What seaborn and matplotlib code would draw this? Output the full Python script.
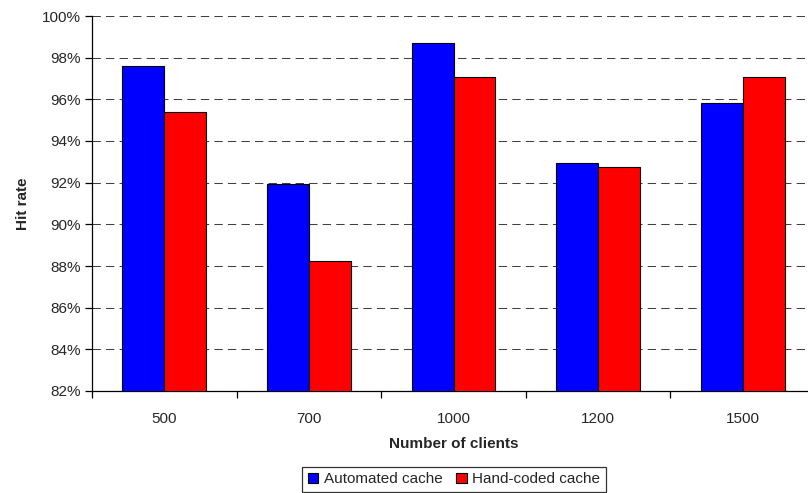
import pandas as pd
import matplotlib
matplotlib.use("Agg")
import matplotlib.pyplot as plt
from matplotlib.ticker import PercentFormatter, FixedLocator
import seaborn as sns

# Data
clients = ['500', '700', '1000', '1200', '1500']
automated = [97.6, 91.95, 98.72, 92.95, 95.84]
hand_coded = [95.37, 88.23, 97.08, 92.73, 97.08]
series_names = ['Automated cache', 'Hand-coded cache']
colors = ['#0000FF', '#FF0000']

df = pd.DataFrame({
    'clients': clients * 2,
    'hit': automated + hand_coded,
    'cache': [series_names[0]] * len(clients) + [series_names[1]] * len(clients),
})

sns.set_style("white")
plt.rcParams['font.family'] = ['Liberation Sans', 'DejaVu Sans']

fig = plt.figure(figsize=(8.08, 4.93), dpi=100)
ax = fig.add_axes([92 / 808, 1 - 391 / 493, (815 - 92) / 808, 375 / 493])

sns.barplot(data=df, x='clients', y='hit', hue='cache', order=clients,
            hue_order=series_names, palette=colors, width=0.58, saturation=1,
            edgecolor='black', linewidth=0.8, ax=ax, zorder=3)

ax.set_ylim(82, 100)
ax.set_xlim(-0.5, len(clients) - 0.5)
ax.yaxis.set_major_locator(FixedLocator(range(82, 101, 2)))
ax.yaxis.set_major_formatter(PercentFormatter(decimals=0))

# dashed grid like Excel
ax.yaxis.grid(True, color='#404040', linestyle=(0, (8, 5)), linewidth=0.75, zorder=0)
ax.xaxis.grid(False)
ax.set_axisbelow(True)

for s in ['top', 'right']:
    ax.spines[s].set_visible(False)
for s in ['left', 'bottom']:
    ax.spines[s].set_color('black')
    ax.spines[s].set_linewidth(0.9)

# ticks: outward on y, category separators on x
ax.tick_params(axis='y', which='major', direction='out', length=5, width=0.9,
               color='black', labelsize=11, pad=3, left=True)
ax.set_xticks(range(len(clients)))
ax.set_xticklabels(clients)
ax.tick_params(axis='x', which='major', length=0, labelsize=11, pad=15)
ax.set_xticks([i + 0.5 for i in range(-1, len(clients))], minor=True)
ax.tick_params(axis='x', which='minor', direction='out', length=5, width=0.9,
               color='black', bottom=True)

ax.set_xlabel('Number of clients', fontsize=11, fontweight='bold', labelpad=8)
ax.set_ylabel('Hit rate', fontsize=11, fontweight='bold', labelpad=0)
ax.yaxis.set_label_coords(-(92 - 30) / 723, 0.5)

ax.get_legend().remove()
handles, labels = ax.get_legend_handles_labels()
leg = fig.legend(handles, labels, loc='upper center', ncol=2,
                 bbox_to_anchor=(454 / 808, 1 - 467 / 493), frameon=True,
                 fancybox=False, edgecolor='black', fontsize=11,
                 handlelength=0.7, handleheight=0.7, handletextpad=0.35,
                 columnspacing=0.9, borderpad=0.35, borderaxespad=0)
leg.get_frame().set_linewidth(0.9)

fig.savefig('out.png', dpi=100)
